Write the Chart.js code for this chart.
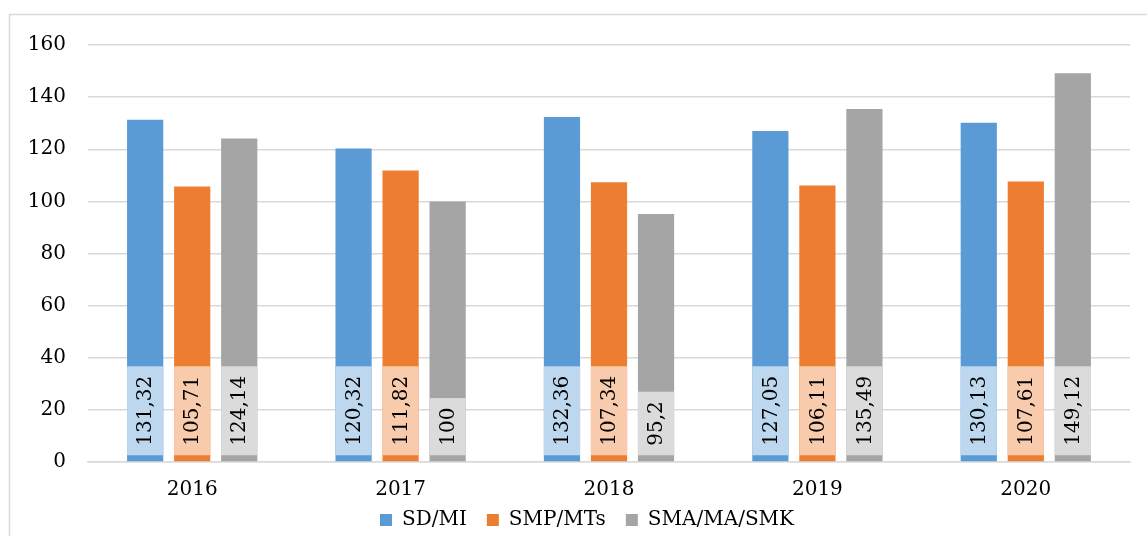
<!DOCTYPE html>
<html>
<head>
<meta charset="utf-8">
<script src="https://cdn.jsdelivr.net/npm/chart.js@4/dist/chart.umd.min.js"></script>
<style>
html,body{margin:0;padding:0;background:#fff;}
#wrap{position:relative;width:1147px;height:536px;}
</style>
</head>
<body>
<div id="wrap"><canvas id="c" width="1147" height="536"></canvas></div>
<script>
const categories = ["2016", "2017", "2018", "2019", "2020"];
const seriesNames = ["SD/MI", "SMP/MTs", "SMA/MA/SMK"];
const sdMi = [131.32, 120.32, 132.36, 127.05, 130.13];
const smpMts = [105.71, 111.82, 107.34, 106.11, 107.61];
const smaMaSmk = [124.14, 100, 95.2, 135.49, 149.12];
const barColors = ["#5B9BD5", "#ED7D31", "#A5A5A5"];
const labelBoxColors = ["#BDD7EE", "#F8CBAD", "#DBDBDB"];
const yTicks = [0, 20, 40, 60, 80, 100, 120, 140, 160];

const FONT = "'DejaVu Serif', serif";

const borderPlugin = {
  id: 'frame',
  beforeDraw(chart) {
    const ctx = chart.ctx;
    ctx.save();
    ctx.fillStyle = '#fff';
    ctx.fillRect(0, 0, chart.width, chart.height);
    ctx.strokeStyle = '#d9d9d9';
    ctx.lineWidth = 1.5;
    ctx.strokeRect(9.5, 14.5, 1200, 600);
    ctx.restore();
  }
};

const legendShift = {
  id: 'legendShift',
  afterLayout(chart) {
    const lg = chart.legend;
    if (!lg) return;
    lg.top -= 12; lg.bottom -= 12;
    lg.left += 22; lg.right += 22;
  }
};

const labelPlugin = {
  id: 'vlabels',
  afterDatasetsDraw(chart) {
    const ctx = chart.ctx;
    ctx.save();
    ctx.font = "20px " + FONT;
    chart.data.datasets.forEach((ds, di) => {
      const meta = chart.getDatasetMeta(di);
      meta.data.forEach((bar, i) => {
        const v = ds.data[i];
        const txt = String(v).replace('.', ',');
        const w = ctx.measureText(txt).width;
        const pad = 9.5;
        const bottom = bar.base - 6;
        const boxH = w + 2 * pad;
        const left = bar.x - bar.width / 2;
        ctx.fillStyle = labelBoxColors[di];
        ctx.fillRect(left, bottom - boxH, bar.width, boxH);
        ctx.save();
        ctx.translate(bar.x, bottom - pad);
        ctx.rotate(-Math.PI / 2);
        ctx.fillStyle = '#000';
        ctx.textAlign = 'left';
        ctx.textBaseline = 'middle';
        ctx.fillText(txt, 0, 1);
        ctx.restore();
      });
    });
    ctx.restore();
  }
};

const ctx = document.getElementById('c').getContext('2d');
new Chart(ctx, {
  type: 'bar',
  data: {
    labels: categories,
    datasets: [
      { label: seriesNames[0], data: sdMi, backgroundColor: barColors[0] },
      { label: seriesNames[1], data: smpMts, backgroundColor: barColors[1] },
      { label: seriesNames[2], data: smaMaSmk, backgroundColor: barColors[2] }
    ]
  },
  options: {
    responsive: false,
    animation: false,
    devicePixelRatio: 1,
    layout: { padding: { top: 45, right: 17, left: 0, bottom: -16 } },
    datasets: { bar: { barPercentage: 0.77, categoryPercentage: 0.677 } },
    plugins: {
      legend: {
        position: 'bottom',
        labels: {
          font: { family: FONT, size: 20 },
          color: '#000',
          boxWidth: 12,
          boxHeight: 12,
          padding: 20
        }
      },
      tooltip: { enabled: false }
    },
    scales: {
      x: {
        afterFit(scale) { scale.height = 40; },
        grid: { display: false, drawTicks: false },
        border: { color: '#d9d9d9', width: 1.5 },
        ticks: { font: { family: FONT, size: 20 }, color: '#000', padding: 16 }
      },
      y: {
        min: 0, max: 160,
        afterBuildTicks(scale) { scale.ticks = yTicks.map(v => ({ value: v })); },
        afterFit(scale) { scale.width = 88; },
        grid: { color: '#d9d9d9', lineWidth: 1.5, drawTicks: false },
        border: { display: false },
        ticks: { font: { family: FONT, size: 20 }, color: '#000', padding: 22 }
      }
    }
  },
  plugins: [borderPlugin, legendShift, labelPlugin]
});
</script>
</body>
</html>
